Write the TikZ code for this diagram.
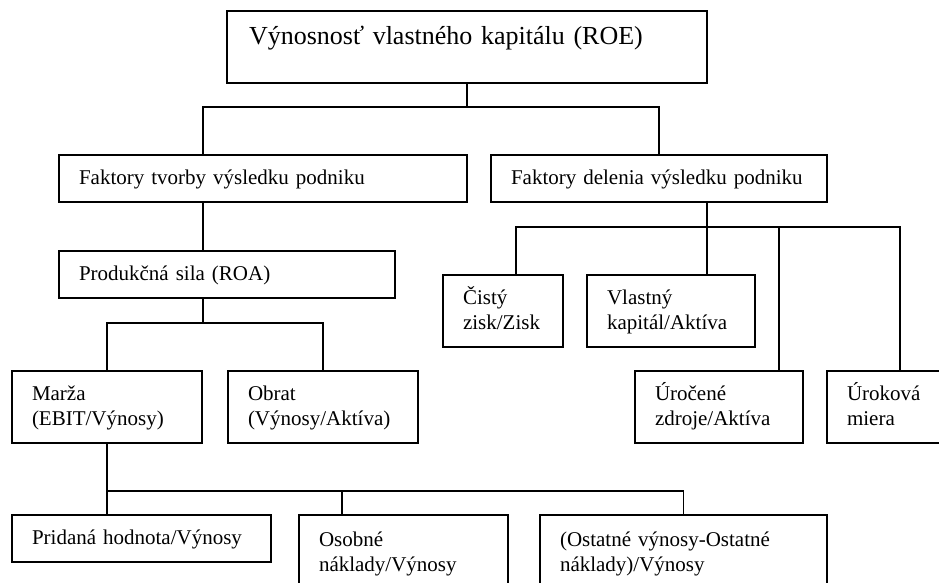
\documentclass[tikz,border=0pt]{standalone}
\usepackage{fontspec}
\setmainfont{Liberation Serif}
\begin{document}
\begin{tikzpicture}[x=1pt,y=-1pt,
  box/.style={draw, line width=1.5pt, inner xsep=20pt, inner ysep=0pt, align=left,
    font=\fontsize{21}{25}\selectfont, text height=16pt, text depth=5pt},
  two/.style={text depth=30pt},
  conn/.style={line width=1.5pt}]
\useasboundingbox (0,0) rectangle (939,583);
\clip (0,0) rectangle (939,583);
% boxes
\node[box, font=\fontsize{26}{30}\selectfont, text height=18pt, text depth=22pt,
      text width=436pt, minimum height=72pt, inner xsep=22pt] (roe) at (467,47) {Výnosnosť vlastného kapitálu (ROE)};
\node[box, text width=368pt, minimum height=47pt] (ft) at (263,178.5) {Faktory tvorby výsledku podniku};
\node[box, text width=296pt, minimum height=47pt] (fd) at (659,178.5) {Faktory delenia výsledku podniku};
\node[box, text width=296pt, minimum height=47pt] (ps) at (227,274.5) {Produkčná sila (ROA)};
\node[box, two, text width=150pt, minimum height=72pt] (marza) at (107,407) {Marža\\(EBIT/Výnosy)};
\node[box, two, text width=150pt, minimum height=72pt] (obrat) at (323,407) {Obrat\\(Výnosy/Aktíva)};
\node[box, two, text width=80pt, minimum height=72pt] (cisty) at (503,311) {Čistý\\zisk/Zisk};
\node[box, two, text width=128pt, minimum height=72pt] (vk) at (671,311) {Vlastný\\kapitál/Aktíva};
\node[box, two, text width=128pt, minimum height=72pt] (uz) at (719,407) {Úročené\\zdroje/Aktíva};
\node[box, two, text width=74pt, minimum height=72pt] (um) at (884,407) {Úroková\\miera};
\node[box, text width=219pt, minimum height=47pt] (pridana) at (141.5,538.5) {Pridaná hodnota/Výnosy};
\node[box, two, text width=169pt, minimum height=76pt] (osobne) at (403.5,553) {Osobné\\náklady/Výnosy};
\node[box, two, text width=247pt, minimum height=76pt] (ostatne) at (683.5,553) {(Ostatné výnosy-Ostatné\\náklady)/Výnosy};
% junctions
\coordinate (j1) at (467,107);
\coordinate (j2) at (203,323);
\coordinate (j3) at (707,227);
\coordinate (j4) at (107,491);
% connectors
\draw[conn] (roe.south) -- (j1);
\draw[conn] (j1) -| (ft.north -| 203,0);
\draw[conn] (j1) -| (fd.north);
\draw[conn] (ft.south -| 203,0) -- (ps.north -| 203,0);
\draw[conn] (ps.south -| 203,0) -- (j2);
\draw[conn] (j2) -| (marza.north);
\draw[conn] (j2) -| (obrat.north);
\draw[conn] (fd.south -| j3) -- (j3);
\draw[conn] (j3) -| (cisty.north -| 516,0);
\draw[conn] (j3) -- (vk.north -| j3);
\draw[conn] (j3) -| (uz.north -| 779,0);
\draw[conn] (j3) -| (um.north -| 900,0);
\draw[conn] (marza.south) -- (j4);
\draw[conn] (j4) -- (pridana.north -| j4);
\draw[conn] (j4) -| (osobne.north -| 342,0);
\draw[conn] (j4) -| (ostatne.north);
\end{tikzpicture}
\end{document}
